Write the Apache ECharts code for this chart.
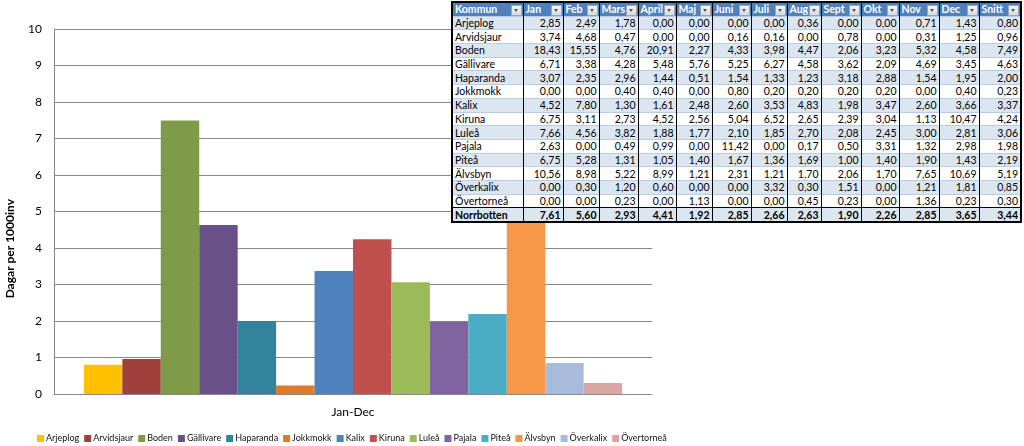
<!DOCTYPE html>
<html>
<head>
<meta charset="utf-8">
<script src="https://cdn.jsdelivr.net/npm/echarts@6/dist/echarts.min.js"></script>
<style>
  html, body { margin:0; padding:0; background:#fff; }
  #chart { position:absolute; left:0; top:0; width:1024px; height:446px; }
  #tbl { position:absolute; left:451px; top:1px; border-collapse:collapse; font-family:Lato, "Liberation Sans", sans-serif; font-size:10.5px; color:#000; border:2px solid #000; table-layout:fixed; background:#fff; }
  #tbl td, #tbl th { height:12.7px; padding:0 2px; border-left:1px solid #000; border-right:1px solid #000; border-top:1px solid #B8CCE4; line-height:12px; white-space:nowrap; overflow:hidden; background:#fff; }
  #tbl th { background:#4F81BD; color:#fff; font-weight:bold; text-align:left; position:relative; border-top:none; }
  #tbl td.num { text-align:right; }
  #tbl tr.band td { background:#DCE6F1; }
  #tbl tr.total td { font-weight:bold; border-top:1.5px solid #000; }
  .dd { position:absolute; right:1px; top:2px; width:9px; height:9px; background:linear-gradient(#f4f6f8,#d6dbe2); border:1px solid #9aa6b4; }
  .dd:after { content:""; position:absolute; left:2px; top:3px; border-left:2.5px solid transparent; border-right:2.5px solid transparent; border-top:3px solid #555; }
</style>
</head>
<body>
<div id="chart"></div>
<table id="tbl"></table>
<script>
// ---- data ----
const kommuner = ['Arjeplog','Arvidsjaur','Boden','Gällivare','Haparanda','Jokkmokk','Kalix','Kiruna','Luleå','Pajala','Piteå','Älvsbyn','Överkalix','Övertorneå'];
const snitt = [0.80, 0.96, 7.49, 4.63, 2.00, 0.23, 3.37, 4.24, 3.06, 1.98, 2.19, 5.19, 0.85, 0.30];
const categories = ['Jan-Dec'];
const yTicks = [0,1,2,3,4,5,6,7,8,9,10];
const yTitle = 'Dagar per 1000inv';
const tableHeader = ['Kommun','Jan','Feb','Mars','April','Maj','Juni','Juli','Aug','Sept','Okt','Nov','Dec','Snitt'];
const arjeplog   = [2.85,2.49,1.78,0.00,0.00,0.00,0.00,0.36,0.00,0.00,0.71,1.43];
const arvidsjaur = [3.74,4.68,0.47,0.00,0.00,0.16,0.16,0.00,0.78,0.00,0.31,1.25];
const boden      = [18.43,15.55,4.76,20.91,2.27,4.33,3.98,4.47,2.06,3.23,5.32,4.58];
const gallivare  = [6.71,3.38,4.28,5.48,5.76,5.25,6.27,4.58,3.62,2.09,4.69,3.45];
const haparanda  = [3.07,2.35,2.96,1.44,0.51,1.54,1.33,1.23,3.18,2.88,1.54,1.95];
const jokkmokk   = [0.00,0.00,0.40,0.40,0.00,0.80,0.20,0.20,0.20,0.20,0.00,0.40];
const kalix      = [4.52,7.80,1.30,1.61,2.48,2.60,3.53,4.83,1.98,3.47,2.60,3.66];
const kiruna     = [6.75,3.11,2.73,4.52,2.56,5.04,6.52,2.65,2.39,3.04,1.13,10.47];
const lulea      = [7.66,4.56,3.82,1.88,1.77,2.10,1.85,2.70,2.08,2.45,3.00,2.81];
const pajala     = [2.63,0.00,0.49,0.99,0.00,11.42,0.00,0.17,0.50,3.31,1.32,2.98];
const pitea      = [6.75,5.28,1.31,1.05,1.40,1.67,1.36,1.69,1.00,1.40,1.90,1.43];
const alvsbyn    = [10.56,8.98,5.22,8.99,1.21,2.31,1.21,1.70,2.06,1.70,7.65,10.69];
const overkalix  = [0.00,0.30,1.20,0.60,0.00,0.00,3.32,0.30,1.51,0.00,1.21,1.81];
const overtornea = [0.00,0.00,0.23,0.00,1.13,0.00,0.00,0.45,0.23,0.00,1.36,0.23];
const norrbotten = [7.61,5.60,2.93,4.41,1.92,2.85,2.66,2.63,1.90,2.26,2.85,3.65];
const norrbottenSnitt = 3.44;
const monthly = [arjeplog,arvidsjaur,boden,gallivare,haparanda,jokkmokk,kalix,kiruna,lulea,pajala,pitea,alvsbyn,overkalix,overtornea];

const colors = ['#FFC000','#A0403D','#7F9B49','#6A5089','#31849B','#DE7A2B','#4F81BD','#C0504D','#9BBB59','#8064A2','#4BACC6','#F79646','#A8BBDA','#D9A6A5'];

// ---- table ----
const colW = [71,40,36,39,38,36,39,36,34,40,38,40,40,42];
const fmt = v => v.toFixed(2).replace('.', ',');
let html = '<colgroup>' + colW.map(w => '<col style="width:' + w + 'px">').join('') + '</colgroup>';
html += '<tr>' + tableHeader.map(h => '<th>' + h + '<span class="dd"></span></th>').join('') + '</tr>';
kommuner.forEach((k, i) => {
  html += '<tr class="' + (i % 2 === 0 ? 'band' : '') + '"><td>' + k + '</td>' +
    monthly[i].map(v => '<td class="num">' + fmt(v) + '</td>').join('') +
    '<td class="num">' + fmt(snitt[i]) + '</td></tr>';
});
html += '<tr class="band total"><td>Norrbotten</td>' + norrbotten.map(v => '<td class="num">' + fmt(v) + '</td>').join('') +
  '<td class="num">' + fmt(norrbottenSnitt) + '</td></tr>';
document.getElementById('tbl').innerHTML = html;

// ---- chart ----
const chart = echarts.init(document.getElementById('chart'), null, {renderer:'canvas'});
const series = kommuner.map((k, i) => ({
  name: k,
  type: 'bar',
  data: [snitt[i]],
  itemStyle: { color: colors[i] },
  barGap: '0%',
  barCategoryGap: '10%'
}));
chart.setOption({
  animation: false,
  textStyle: { fontFamily: 'Lato, "Liberation Sans", sans-serif' },
  grid: { left: 54, right: 372, top: 29, bottom: 52, containLabel: false, outerBoundsMode: 'none' },
  xAxis: {
    type: 'category',
    data: categories,
    axisLine: { lineStyle: { color: '#898989' } },
    axisTick: { show: false },
    axisLabel: { color: '#000', fontSize: 12, margin: 12 }
  },
  yAxis: {
    type: 'value',
    min: yTicks[0], max: yTicks[yTicks.length - 1], interval: 1,
    axisLine: { show: true, lineStyle: { color: '#898989' } },
    axisTick: { show: false },
    axisLabel: { color: '#000', fontSize: 12, margin: 12 },
    splitLine: { lineStyle: { color: '#898989' } }
  },
  graphic: [{
    type: 'text',
    left: 4,
    top: 199,
    rotation: Math.PI / 2,
    style: { text: yTitle, fill: '#000', font: 'bold 12px Lato, "Liberation Sans", sans-serif' }
  }],
  legend: {
    bottom: 3,
    left: 37,
    padding: 0,
    itemWidth: 7,
    itemHeight: 7,
    itemGap: 5,
    icon: 'rect',
    textStyle: { fontSize: 9, color: '#111', padding: [0,0,0,-3] },
    data: kommuner
  },
  series: series
});
</script>
</body>
</html>
